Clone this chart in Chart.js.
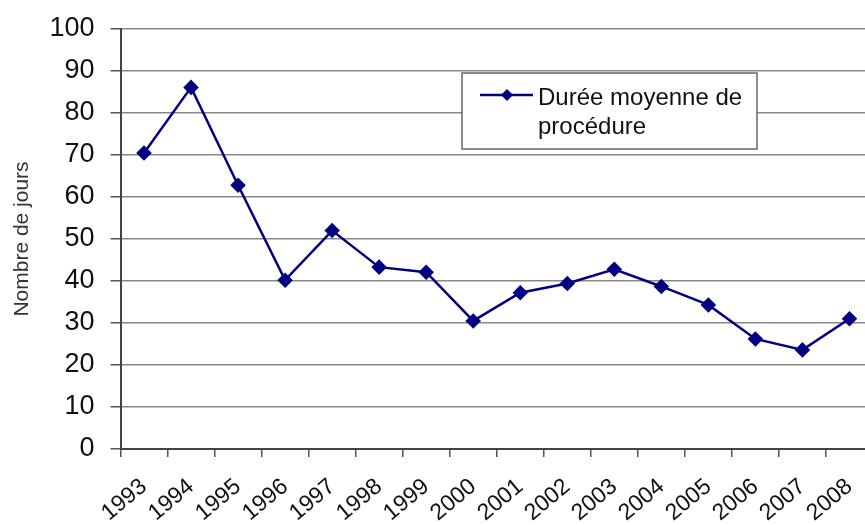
<!DOCTYPE html>
<html>
<head>
<meta charset="utf-8">
<script src="https://cdn.jsdelivr.net/npm/chart.js@4/dist/chart.umd.min.js"></script>
<style>
  html, body { margin: 0; padding: 0; background: #fff; overflow: hidden; }
  #wrap { width: 873px; height: 525px; }
</style>
</head>
<body>
<div id="wrap"><canvas id="dureeChart" width="873" height="525"></canvas></div>
<script>
const years = ['1993','1994','1995','1996','1997','1998','1999','2000','2001','2002','2003','2004','2005','2006','2007','2008'];
const dureeMoyenne = [70.5, 86.1, 62.8, 40.2, 52.0, 43.3, 42.1, 30.5, 37.2, 39.4, 42.8, 38.7, 34.3, 26.2, 23.6, 31.0];
const seriesLabel = ['Durée moyenne de', 'procédure'];
const yTitle = 'Nombre de jours';

const FONT = 'Arial, "Liberation Sans", sans-serif';
const NAVY = '#000080';

// legend box drawn inside the plot, like the original
const boxLegend = {
    id: 'boxLegend',
    afterDraw(chart) {
        const ctx = chart.ctx;
        const x = 462, y = 73, w = 295, h = 76;
        ctx.save();
        ctx.fillStyle = '#fff';
        ctx.fillRect(x, y, w, h);
        ctx.strokeStyle = '#666';
        ctx.lineWidth = 1.5;
        ctx.strokeRect(x, y, w, h);

        const ly = 95;
        ctx.strokeStyle = NAVY;
        ctx.lineWidth = 2.5;
        ctx.beginPath();
        ctx.moveTo(480, ly);
        ctx.lineTo(533, ly);
        ctx.stroke();
        ctx.fillStyle = NAVY;
        ctx.beginPath();
        ctx.moveTo(507, ly - 6);
        ctx.lineTo(513, ly);
        ctx.lineTo(507, ly + 6);
        ctx.lineTo(501, ly);
        ctx.closePath();
        ctx.fill();

        ctx.fillStyle = '#111';
        ctx.font = '24px ' + FONT;
        ctx.textBaseline = 'alphabetic';
        ctx.fillText(seriesLabel[0], 538, 105);
        ctx.fillText(seriesLabel[1], 538, 134);
        ctx.restore();
    }
};

function initChart() {
    const ctx = document.getElementById('dureeChart').getContext('2d');
    new Chart(ctx, {
        type: 'line',
        data: {
            labels: years,
            datasets: [{
                label: seriesLabel.join(' '),
                data: dureeMoyenne,
                borderColor: NAVY,
                backgroundColor: NAVY,
                borderWidth: 2.5,
                pointStyle: 'rectRot',
                pointRadius: 6,
                pointBackgroundColor: NAVY,
                pointBorderColor: NAVY,
                tension: 0
            }]
        },
        options: {
            responsive: false,
            animation: false,
            // the original plot runs a few pixels past the right edge of the picture
            layout: { autoPadding: false, padding: { top: 29, right: 0, left: 0, bottom: 0 } },
            plugins: {
                legend: { display: false },
                tooltip: { enabled: false }
            },
            scales: {
                x: {
                    offset: true,
                    grid: {
                        offset: true,
                        drawOnChartArea: false,
                        tickLength: 8,
                        tickColor: '#555',
                        lineWidth: 1.5
                    },
                    border: { color: '#444', width: 2 },
                    ticks: {
                        autoSkip: false,
                        maxRotation: 40,
                        minRotation: 40,
                        padding: 16,
                        color: '#111',
                        font: { family: FONT, size: 23 }
                    },
                    afterFit(scale) {
                        scale.height = 76;
                        scale.paddingLeft = 0;
                        scale.paddingRight = 0;
                    }
                },
                y: {
                    min: 0,
                    max: 100,
                    ticks: {
                        stepSize: 10,
                        padding: 16,
                        color: '#111',
                        font: { family: FONT, size: 27 }
                    },
                    grid: {
                        color: '#888',
                        lineWidth: 1.5,
                        tickLength: 10,
                        tickColor: '#555'
                    },
                    border: { color: '#444', width: 2 },
                    title: {
                        display: true,
                        text: yTitle,
                        color: '#333',
                        padding: { top: 10, bottom: 0 },
                        font: { family: FONT, size: 21 }
                    },
                    afterFit(scale) {
                        scale.width = 120.5;
                        scale.paddingTop = 0;
                        scale.paddingBottom = 0;
                    }
                }
            }
        },
        plugins: [boxLegend]
    });
}

document.addEventListener('DOMContentLoaded', initChart);
</script>
</body>
</html>
